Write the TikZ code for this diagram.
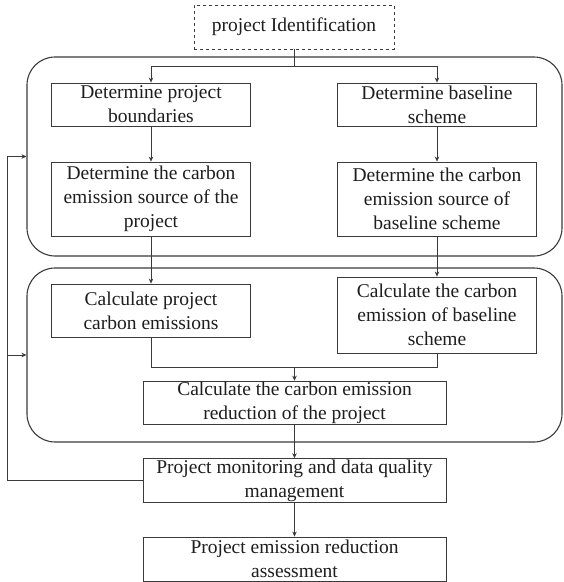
\documentclass[tikz,border=0pt]{standalone}
\usepackage{fontspec}
\setmainfont{Liberation Serif}
\usetikzlibrary{arrows.meta,positioning,calc}
\definecolor{flowink}{HTML}{1E1E1E}
\definecolor{flowline}{HTML}{3A3A3A}

\begin{document}
\begin{tikzpicture}[x=1pt, y=-1pt,
  font=\fontsize{19.5}{24}\selectfont, text=flowink,
  box/.style={draw=flowline, line width=0.9pt, fill=white, align=center, inner sep=1pt, minimum width=199pt},
  frame/.style={draw=flowline, line width=1.1pt, rounded corners=28pt, inner sep=0pt},
  link/.style={draw=flowline, line width=0.6pt, -{Stealth[length=5pt,width=4.5pt]}}]
  \useasboundingbox (0,0) rectangle (564,582);
  % the two stages
  \node[frame, minimum width=535pt, minimum height=199pt] (upper) at (294.5,156.5) {};
  \node[frame, minimum width=535pt, minimum height=174pt] (lower) at (294.5,355) {};
  \node[box, dashed, minimum width=200pt, minimum height=44pt] (ident) at (294,27) {project Identification};
  \node[box, minimum height=43pt] (bound) at (151,104.5) {Determine project\\boundaries};
  \node[box, minimum height=43pt] (base) at (437,104.5) {Determine baseline\\scheme};
  \node[box, minimum height=74pt] (srcp) at (151,199) {Determine the carbon\\emission source of the\\project};
  \node[box, minimum height=74pt] (srcb) at (437,199) {Determine the carbon\\emission source of\\baseline scheme};
  \node[box, minimum height=53pt] (calcp) at (151,310.5) {Calculate project\\carbon emissions};
  \node[box, minimum height=76pt] (calcb) at (437,315) {Calculate the carbon\\emission of baseline\\scheme};
  \node[box, minimum width=303pt, minimum height=42pt] (reduce) at (294.5,403) {Calculate the carbon emission\\reduction of the project};
  \node[box, minimum width=303pt, minimum height=43pt] (monitor) at (294.5,480.5) {Project monitoring and data quality\\management};
  \node[box, minimum width=303pt, minimum height=44pt] (assess) at (294.5,559) {Project emission reduction\\assessment};
  \coordinate (split) at (294,66);
  \coordinate (merge) at (294.5,367);
  \coordinate (loop) at (7,480.5);
  % connectors
  \draw[flowline, line width=0.6pt] (ident.south) -- (split);
  \draw[link] (split) -| (bound.north);
  \draw[link] (split) -| (base.north);
  \draw[link] (bound) -- (srcp);
  \draw[link] (base) -- (srcb);
  \draw[link] (srcp) -- (calcp);
  \draw[link] (srcb) -- (calcb);
  \draw[flowline, line width=0.6pt] (calcp.south) -- (calcp.south |- merge) -- (calcb.south |- merge) -- (calcb.south);
  \draw[link] (merge) -- (reduce.north);
  \draw[link] (reduce) -- (monitor);
  \draw[link] (monitor) -- (assess);
  % feedback
  \draw[link] (monitor.west) -- (loop) |- (upper.west);
  \draw[link] (loop) |- (lower.west);
\end{tikzpicture}
\end{document}
